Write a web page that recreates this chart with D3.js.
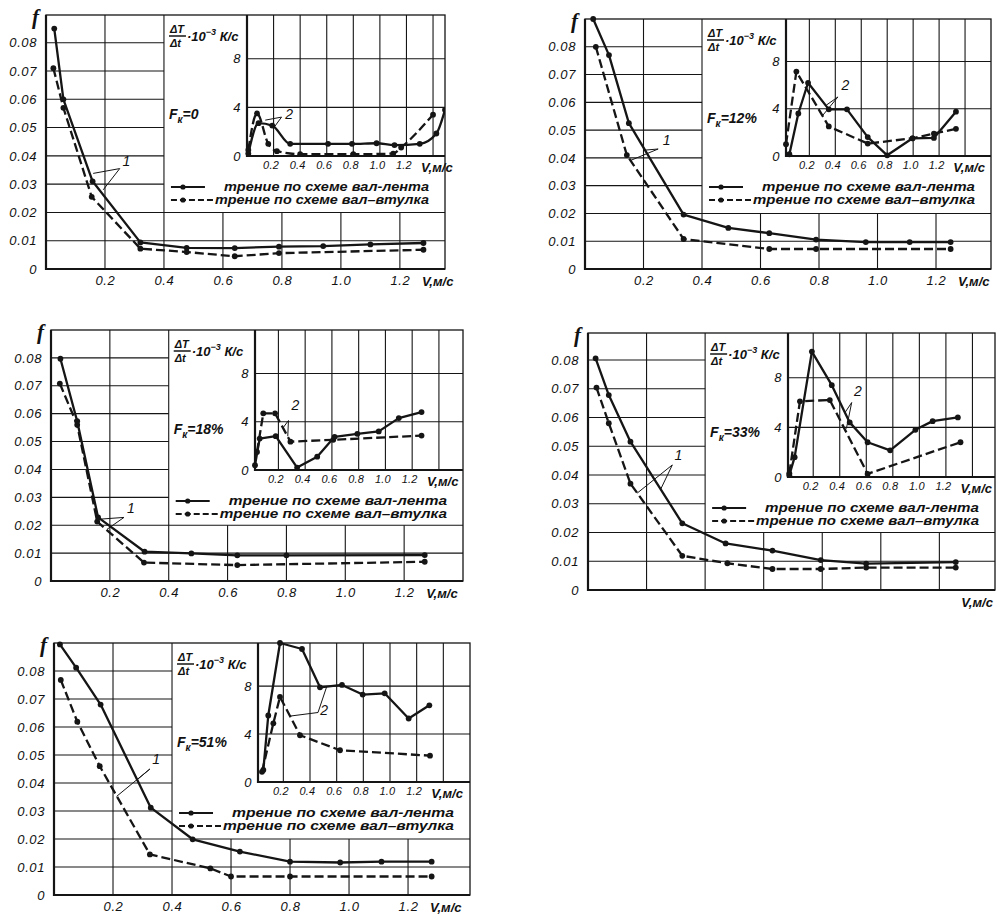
<!DOCTYPE html>
<html>
<head>
<meta charset="utf-8">
<script src="https://cdn.jsdelivr.net/npm/d3@7"></script>
<style>
  body { margin: 0; background: #fff; }
  svg text { font-family: "Liberation Sans", Arial, sans-serif; font-style: italic; fill: #111; }
  .bold { font-weight: bold; }
</style>
</head>
<body>
<div id="chart"></div>
<script>
// tick values / labels
const fTicks = [0, 0.01, 0.02, 0.03, 0.04, 0.05, 0.06, 0.07, 0.08];
const vTicks = [0.2, 0.4, 0.6, 0.8, 1.0, 1.2];
const dtTicks = [0, 4, 8];
const dtGridV = [0.2, 0.4, 0.6, 0.8, 1.0, 1.2, 1.4, 1.6];
const fkLabels = ["0", "12%", "18%", "33%", "51%"];
const legendText = ["трение по схеме вал-лента", "трение по схеме вал–втулка"];

// friction coefficient f vs V  (solid = вал-лента, dashed = вал-втулка)
const fBelt0 = [[0.028,0.085],[0.059,0.060],[0.158,0.031],[0.32,0.0094],[0.477,0.0075],[0.64,0.0074],[0.79,0.0079],[0.94,0.0081],[1.10,0.0087],[1.28,0.0092]];
const fBush0 = [[0.025,0.071],[0.059,0.057],[0.155,0.0255],[0.32,0.0072],[0.477,0.006],[0.64,0.0045],[0.79,0.0056],[1.28,0.0068]];
const fBelt12 = [[0.028,0.090],[0.082,0.077],[0.15,0.0525],[0.337,0.0196],[0.49,0.0148],[0.63,0.0129],[0.79,0.0106],[0.96,0.0097],[1.11,0.0097],[1.25,0.0097]];
const fBush12 = [[0.037,0.080],[0.143,0.041],[0.337,0.0108],[0.63,0.0072],[0.79,0.0072],[1.25,0.0072]];
const fBelt18 = [[0.032,0.0797],[0.089,0.0573],[0.16,0.0228],[0.318,0.0105],[0.477,0.0099],[0.633,0.0092],[0.80,0.0092],[1.27,0.0093]];
const fBush18 = [[0.03,0.0708],[0.089,0.056],[0.157,0.0213],[0.316,0.0066],[0.633,0.0057],[1.27,0.0069]];
const fBelt33 = [[0.026,0.0806],[0.071,0.0678],[0.145,0.0516],[0.322,0.0232],[0.47,0.0162],[0.63,0.0137],[0.795,0.0104],[0.95,0.0092],[1.256,0.0097]];
const fBush33 = [[0.029,0.0704],[0.071,0.058],[0.145,0.037],[0.322,0.0119],[0.476,0.0093],[0.63,0.0073],[0.795,0.0073],[0.95,0.0078],[1.256,0.0078]];
const fBelt51 = [[0.02,0.0895],[0.075,0.0812],[0.158,0.068],[0.328,0.0312],[0.47,0.0199],[0.63,0.0155],[0.80,0.0119],[0.97,0.0116],[1.11,0.0119],[1.28,0.0119]];
const fBush51 = [[0.023,0.0768],[0.079,0.0619],[0.155,0.046],[0.325,0.0145],[0.53,0.0095],[0.60,0.0066],[0.80,0.0066],[1.28,0.0066]];

// heating rate dT/dt (10^-3 K/c) vs V, insets
const dtBelt0 = [[0.01,0.2],[0.087,2.7],[0.19,2.5],[0.325,1.0],[0.61,1.0],[0.79,1.0],[0.975,1.05],[1.11,0.9],[1.30,1.0],[1.425,1.85],[1.49,3.8]];
const dtBush0 = [[0.01,0.5],[0.075,3.5],[0.16,1.0],[0.225,0.4],[0.4,0.15],[0.8,0.15],[1.1,0.2],[1.16,0.7],[1.40,3.4]];
const dtBelt12 = [[0.046,0.15],[0.115,3.6],[0.19,6.2],[0.35,3.95],[0.49,3.95],[0.65,1.6],[0.80,0.06],[0.995,1.5],[1.16,1.53],[1.33,3.75]];
const dtBush12 = [[0.02,1.0],[0.10,7.15],[0.35,2.5],[0.65,1.05],[0.995,1.5],[1.16,1.9],[1.33,2.3]];
const dtBelt18 = [[0.025,0.4],[0.06,2.6],[0.18,2.8],[0.34,0.2],[0.49,1.1],[0.62,2.75],[0.79,3.0],[0.95,3.2],[1.10,4.3],[1.27,4.8]];
const dtBush18 = [[0.04,1.5],[0.087,4.7],[0.175,4.7],[0.29,2.35],[0.61,2.5],[1.27,2.85]];
const dtBelt33 = [[0.02,0.15],[0.06,1.6],[0.19,10.1],[0.34,7.4],[0.475,4.4],[0.61,2.8],[0.78,2.15],[0.97,3.8],[1.10,4.5],[1.29,4.8]];
const dtBush33 = [[0.02,0.3],[0.10,6.1],[0.325,6.2],[0.61,0.25],[1.31,2.8]];
const dtBelt51 = [[0.05,1.0],[0.087,5.55],[0.175,11.6],[0.34,11.1],[0.475,7.9],[0.64,8.1],[0.795,7.3],[0.96,7.4],[1.14,5.3],[1.295,6.4]];
const dtBush51 = [[0.04,0.85],[0.125,4.9],[0.175,7.1],[0.325,3.9],[0.625,2.65],[1.30,2.2]];

// panel layout (pixels) and leader notes (data coords)
const panels = [
  {fk: fkLabels[0], belt: fBelt0, bush: fBush0, dtBelt: dtBelt0, dtBush: dtBush0, smooth: true,
   left: 46, right: 445, top: 15, bottom: 269, vMax: 1.353, fMax: 0.0898,
   inLeft: 247, inBottom: 156, inVMin: 0, inVMax: 1.49, inTMax: 11.6, showX: true,
   n1: {at: [0.256, 0.0368], to: [0.25, 0.0355], from: [[0.16, 0.0338], [0.194, 0.028]]},
   n2: {at: [0.28, 3.2], to: [0.26, 3.2], from: [[0.137, 2.95], [0.2, 2.3]]}},
  {fk: fkLabels[1], belt: fBelt12, bush: fBush12, dtBelt: dtBelt12, dtBush: dtBush12,
   left: 585, right: 991, top: 19, bottom: 269, vMax: 1.388, fMax: 0.09,
   inLeft: 786, inBottom: 156, inVMin: 0.02, inVMax: 1.6, inTMax: 11.6, showX: true,
   n1: {at: [0.262, 0.045], to: [0.25, 0.0432], from: [[0.154, 0.039], [0.205, 0.0428]]},
   n2: {at: [0.44, 5.7], to: [0.42, 5.0], from: [[0.33, 4.3], [0.30, 3.4]]}},
  {fk: fkLabels[2], belt: fBelt18, bush: fBush18, dtBelt: dtBelt18, dtBush: dtBush18,
   left: 51, right: 463, top: 330, bottom: 581, vMax: 1.40, fMax: 0.09,
   inLeft: 255, inBottom: 470, inVMin: 0.025, inVMax: 1.58, inTMax: 11.6, showX: true,
   n1: {at: [0.255, 0.0248], to: [0.248, 0.0228], from: [[0.17, 0.0222], [0.19, 0.0185]]},
   n2: {at: [0.29, 5.1], to: [0.275, 4.1], from: [[0.235, 3.5], [0.27, 2.8]]}},
  {fk: fkLabels[3], belt: fBelt33, bush: fBush33, dtBelt: dtBelt33, dtBush: dtBush33,
   left: 588, right: 995, top: 333, bottom: 590, vMax: 1.39, fMax: 0.0894,
   inLeft: 788, inBottom: 477, inVMin: 0.01, inVMax: 1.57, inTMax: 11.6, showX: false,
   n1: {at: [0.292, 0.0458], to: [0.288, 0.0435], from: [[0.168, 0.0337], [0.248, 0.035]]},
   n2: {at: [0.5, 6.6], to: [0.49, 6.0], from: [[0.44, 5.2], [0.45, 3.9]]}},
  {fk: fkLabels[4], belt: fBelt51, bush: fBush51, dtBelt: dtBelt51, dtBush: dtBush51,
   left: 54, right: 470, top: 643, bottom: 895, vMax: 1.41, fMax: 0.09,
   inLeft: 258, inBottom: 782, inVMin: 0.01, inVMax: 1.6, inTMax: 11.6, showX: true,
   n1: {at: [0.33, 0.0472], to: [0.325, 0.045], from: [[0.212, 0.0352], [0.28, 0.041]]},
   n2: {at: [0.47, 5.7], to: [0.46, 5.8], from: [[0.25, 5.5], [0.525, 7.95]]}}
];

const svg = d3.select("#chart").append("svg")
    .attr("width", 1002)
    .attr("height", 916);

svg.append("rect").attr("width", 1002).attr("height", 916).attr("fill", "#fff");

const ink = "#151515";

function drawSeries(g, data, x, y, dashed, curve) {
    let line = d3.line().x(d => x(d[0])).y(d => y(d[1])).curve(curve || d3.curveLinear);
    g.append("path")
        .datum(data)
        .attr("d", line)
        .attr("fill", "none")
        .attr("stroke", ink)
        .attr("stroke-width", 2.3)
        .attr("stroke-linejoin", "round")
        .attr("stroke-dasharray", dashed ? "9,4" : null);
    g.selectAll(null).data(data).enter().append("circle")
        .attr("cx", d => x(d[0]))
        .attr("cy", d => y(d[1]))
        .attr("r", 2.9)
        .attr("fill", ink);
}

function drawNote(g, note, label, x, y) {
    note.from.forEach(p => {
        g.append("line")
            .attr("x1", x(p[0])).attr("y1", y(p[1]))
            .attr("x2", x(note.to[0])).attr("y2", y(note.to[1]))
            .attr("stroke", ink).attr("stroke-width", 1);
    });
    g.append("text")
        .attr("x", x(note.at[0]) + 1)
        .attr("y", y(note.at[1]))
        .attr("dy", "0.1em")
        .attr("font-size", 14)
        .text(label);
}

function styleAxis(g, size) {
    g.select(".domain").remove();
    g.attr("font-family", null).attr("font-size", null);
    g.selectAll("text")
        .attr("font-size", size)
        .attr("letter-spacing", "0.6px")
        .attr("fill", ink);
}

panels.forEach((p, pi) => {
    let g = svg.append("g").attr("class", "panel");

    let x = d3.scaleLinear().domain([0, p.vMax]).range([p.left, p.right]);
    let y = d3.scaleLinear().domain([0, p.fMax]).range([p.bottom, p.top]);

    // main grid, hidden behind the inset / legend box (v > 0.4, f > 0.02)
    let grid = g.append("g").attr("stroke", ink).attr("stroke-width", 1.1);
    grid.selectAll(".vg").data(vTicks).enter().append("line")
        .attr("x1", d => x(d)).attr("x2", d => x(d))
        .attr("y1", p.bottom)
        .attr("y2", d => d > 0.41 ? y(0.02) : p.top);
    grid.selectAll(".hg").data(fTicks.filter(d => d > 0)).enter().append("line")
        .attr("x1", p.left)
        .attr("x2", d => d > 0.021 ? x(0.4) : p.right)
        .attr("y1", d => y(d)).attr("y2", d => y(d));

    // frame
    g.append("rect")
        .attr("x", p.left).attr("y", p.top)
        .attr("width", p.right - p.left).attr("height", p.bottom - p.top)
        .attr("fill", "none").attr("stroke", ink).attr("stroke-width", 1.3);
    g.append("path")
        .attr("d", `M${p.left},${p.top}V${p.bottom}H${p.right}`)
        .attr("fill", "none").attr("stroke", ink).attr("stroke-width", 2.2);

    // axes labels
    let ya = g.append("g").attr("transform", `translate(${p.left},0)`)
        .call(d3.axisLeft(y).tickValues(fTicks).tickSize(0).tickPadding(9)
            .tickFormat(d => d === 0 ? "0" : d3.format(".2f")(d)));
    styleAxis(ya, 13);

    let xa = g.append("g").attr("transform", `translate(0,${p.bottom})`)
        .call(d3.axisBottom(x).tickValues(vTicks).tickSize(0).tickPadding(7)
            .tickFormat(d => p.showX ? d3.format(".1f")(d) : ""));
    styleAxis(xa, 13);

    g.append("text").attr("class", "bold")
        .attr("x", x(1.2) + 22).attr("y", p.bottom + 17)
        .attr("font-size", 13)
        .text("V,м/с");

    g.append("text")
        .attr("x", p.left - 14).attr("y", p.top + 9)
        .attr("font-size", 21).attr("font-weight", "bold")
        .style("font-family", "'Liberation Serif', serif")
        .text("f");

    // dT/dt heading and F_K label
    let bx = x(0.4) + 5;
    let hy = p.top + 21;
    g.append("text").attr("class", "bold").attr("x", bx + 1).attr("y", hy - 3)
        .attr("font-size", 11).text("ΔT");
    g.append("line").attr("x1", bx).attr("x2", bx + 17).attr("y1", hy).attr("y2", hy)
        .attr("stroke", ink).attr("stroke-width", 1.5);
    g.append("text").attr("class", "bold").attr("x", bx + 1).attr("y", hy + 11)
        .attr("font-size", 11).text("Δt");
    let ht = g.append("text").attr("class", "bold").attr("x", bx + 18).attr("y", hy + 5)
        .attr("font-size", 13);
    ht.append("tspan").text("·10");
    ht.append("tspan").attr("dy", -6).attr("font-size", 9).text("−3");
    ht.append("tspan").attr("dy", 6).text(" К/с");

    let fk = g.append("text").attr("class", "bold")
        .attr("x", bx).attr("y", p.top + 104).attr("font-size", 14);
    fk.append("tspan").text("F");
    fk.append("tspan").attr("dy", 4).attr("font-size", 10).text("к");
    fk.append("tspan").attr("dy", -4).text("=" + p.fk);

    // legend
    let ly = p.inBottom + 31;
    let lx = x(0.4) + 7;
    [0, 1].forEach(i => {
        let yy = ly + i * 13;
        let len = i === 0 ? 34 : 42;
        g.append("line")
            .attr("x1", lx).attr("x2", lx + len)
            .attr("y1", yy).attr("y2", yy)
            .attr("stroke", ink).attr("stroke-width", 2)
            .attr("stroke-dasharray", i === 0 ? null : "6,3");
        g.append("circle").attr("cx", lx + 12).attr("cy", yy).attr("r", 2.6).attr("fill", ink);
        let tx = i === 0 ? lx + 53 : lx + 44;
        g.append("text").attr("class", "bold")
            .attr("x", tx).attr("y", yy + 4)
            .attr("font-size", 12)
            .attr("textLength", p.right - 16 - tx)
            .attr("lengthAdjust", "spacingAndGlyphs")
            .text(legendText[i]);
    });

    // main curves
    drawSeries(g, p.bush, x, y, true);
    drawSeries(g, p.belt, x, y, false);
    drawNote(g, p.n1, "1", x, y);

    // inset
    let ix = d3.scaleLinear().domain([p.inVMin, p.inVMax]).range([p.inLeft, p.right]);
    let iy = d3.scaleLinear().domain([0, p.inTMax]).range([p.inBottom, p.top]);

    let ig = g.append("g");
    ig.selectAll(".ivg").data(dtGridV.filter(d => ix(d) < p.right - 2)).enter().append("line")
        .attr("x1", d => ix(d)).attr("x2", d => ix(d))
        .attr("y1", p.inBottom).attr("y2", p.top)
        .attr("stroke", ink).attr("stroke-width", 1.1);
    ig.selectAll(".ihg").data(dtTicks.filter(d => d > 0)).enter().append("line")
        .attr("x1", p.inLeft).attr("x2", p.right)
        .attr("y1", d => iy(d)).attr("y2", d => iy(d))
        .attr("stroke", ink).attr("stroke-width", 1.1);
    ig.append("path")
        .attr("d", `M${p.inLeft},${p.top}V${p.inBottom}H${p.right}`)
        .attr("fill", "none").attr("stroke", ink).attr("stroke-width", 2.2);

    let iya = ig.append("g").attr("transform", `translate(${p.inLeft},0)`)
        .call(d3.axisLeft(iy).tickValues(dtTicks).tickSize(0).tickPadding(6));
    styleAxis(iya, 13);
    let ixa = ig.append("g").attr("transform", `translate(-3,${p.inBottom})`)
        .call(d3.axisBottom(ix).tickValues(vTicks).tickSize(0).tickPadding(5)
            .tickFormat(d3.format(".1f")));
    styleAxis(ixa, 11);
    ixa.selectAll("text").attr("letter-spacing", "0.2px");
    ig.append("text").attr("class", "bold")
        .attr("x", ix(1.31)).attr("y", p.inBottom + 16)
        .attr("font-size", 13)
        .text("V,м/с");

    let clipId = "clip" + pi;
    svg.append("clipPath").attr("id", clipId).append("rect")
        .attr("x", p.inLeft - 4).attr("y", p.top - 4)
        .attr("width", p.right - p.inLeft + 4).attr("height", p.inBottom - p.top + 8);
    let cg = ig.append("g").attr("clip-path", `url(#${clipId})`);
    let curve = p.smooth ? d3.curveMonotoneX : null;
    drawSeries(cg, p.dtBush, ix, iy, true, curve);
    drawSeries(cg, p.dtBelt, ix, iy, false, curve);
    drawNote(ig, p.n2, "2", ix, iy);
});
</script>
</body>
</html>
